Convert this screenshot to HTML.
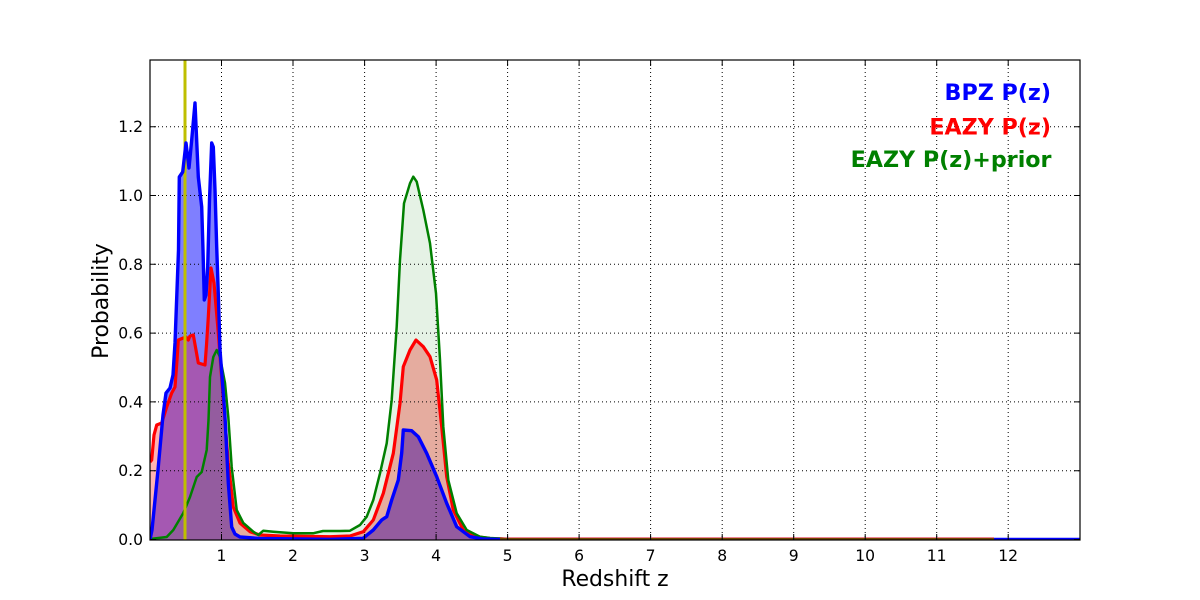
<!DOCTYPE html>
<html><head><meta charset="utf-8"><style>
html,body{margin:0;padding:0;background:#fff;}
svg{display:block;}
text{font-family:"DejaVu Sans","Liberation Sans",sans-serif;}
</style></head><body>
<svg width="1200" height="600" viewBox="0 0 1200 600" xmlns="http://www.w3.org/2000/svg">
<defs><clipPath id="ax"><rect x="150" y="60" width="930" height="480"/></clipPath></defs>
<rect width="1200" height="600" fill="#fff"/>
<g clip-path="url(#ax)">
<!-- fills -->
<path fill="rgba(0,0,255,0.5)" d="M150,539.5 L152,530 L158,470 L163,415 L166,393 L170,388 L173,375 L175,343 L177,290 L178.5,250 L179.3,177 L182.7,172 L186,143 L189,168 L191.7,140 L195,103 L198.3,177 L201.7,207 L203,250 L204.3,300 L206,295 L207.7,267 L209.5,200 L211.7,143 L213.3,147 L215,190 L216.7,247 L218.5,300 L220,350 L222.5,383 L225,417 L228.3,483 L231.7,527 L235,534 L240,537 L260,538.5 L300,539 L330,539.3 L363,538.3 L373.3,530 L381.7,520 L386.7,516.7 L391.7,500 L398.3,480 L401.7,453 L403.3,430 L411.7,430.7 L418.3,436.7 L426.7,453.3 L436.7,476.7 L446.7,503.3 L456.7,526.7 L470,536.7 L483,539 L500,539.5 L1080,539.5 L1080,540 L150,540 Z"/>
<path fill="rgba(255,0,0,0.3)" d="M150,462 L151.7,460 L154,435 L156.7,425 L161.7,423 L166.7,407 L171.7,393 L175,387 L177,360 L178.3,340 L183.3,338 L186,337 L188.3,340 L190,336 L193.3,335 L196,350 L198.3,363 L205,365 L206.5,345 L208.3,317 L211,268 L214,283 L218.3,333 L223.3,400 L228.3,463 L233.3,507 L240,523 L250,531.7 L260,535 L280,536 L330,536.7 L350,536 L363.3,531.7 L373.3,520 L383.3,493.3 L393.3,453.3 L400,403.3 L403.3,366.7 L410,350 L416,340 L423.3,346.7 L430,356.7 L436.7,380 L441.7,426.7 L446.7,476.7 L453.3,510 L463.3,530 L476.7,536.7 L490,538.5 L510,539.2 L994,539.2 L994,540 L150,540 Z"/>
<path fill="rgba(0,128,0,0.1)" d="M150,539 L166.7,537 L173.3,530 L178,522 L183.3,513 L190,497 L196.7,477 L201.7,472 L206.7,450 L208.5,420 L210,377 L213.3,357 L216.7,350 L220,357 L225,383 L228.3,417 L231.7,467 L236.7,510 L243.3,523 L253.3,531.7 L258.3,535 L263.3,530.7 L273.3,531.7 L293.3,533.3 L313,533.3 L323,531 L340,531 L350,530.7 L360,525 L366.7,516.7 L373.3,500 L380,473.3 L386.7,443.3 L391.7,400 L396.7,326.7 L400,260 L404,203.3 L410,183.3 L413.3,176.7 L416.7,181.7 L423.3,210 L430,243.3 L436,293.3 L440,360 L443.3,426.7 L448.3,480 L456.7,513.3 L466.7,530 L480,536.7 L490,538 L510,539 L994,539 L994,540 L150,540 Z"/>
<!-- grid -->
<g stroke="#000" stroke-width="1" stroke-dasharray="1,3" fill="none">
<path d="M221.5,60V540 M293,60V540 M364.6,60V540 M436.1,60V540 M507.6,60V540 M579.1,60V540 M650.6,60V540 M722.2,60V540 M793.7,60V540 M865.2,60V540 M936.7,60V540 M1008.2,60V540"/>
<path d="M150,470.7H1080 M150,401.9H1080 M150,333.1H1080 M150,264.3H1080 M150,195.5H1080 M150,126.7H1080"/>
</g>
<!-- lines -->
<path fill="none" stroke="#ff0000" stroke-width="3.2" stroke-linejoin="round" d="M150,462 L151.7,460 L154,435 L156.7,425 L161.7,423 L166.7,407 L171.7,393 L175,387 L177,360 L178.3,340 L183.3,338 L186,337 L188.3,340 L190,336 L193.3,335 L196,350 L198.3,363 L205,365 L206.5,345 L208.3,317 L211,268 L214,283 L218.3,333 L223.3,400 L228.3,463 L233.3,507 L240,523 L250,531.7 L260,535 L280,536 L330,536.7 L350,536 L363.3,531.7 L373.3,520 L383.3,493.3 L393.3,453.3 L400,403.3 L403.3,366.7 L410,350 L416,340 L423.3,346.7 L430,356.7 L436.7,380 L441.7,426.7 L446.7,476.7 L453.3,510 L463.3,530 L476.7,536.7 L490,538.5 L510,539.2 L994,539.2"/>
<path fill="none" stroke="#008000" stroke-width="2.5" stroke-linejoin="round" d="M150,539 L166.7,537 L173.3,530 L178,522 L183.3,513 L190,497 L196.7,477 L201.7,472 L206.7,450 L208.5,420 L210,377 L213.3,357 L216.7,350 L220,357 L225,383 L228.3,417 L231.7,467 L236.7,510 L243.3,523 L253.3,531.7 L258.3,535 L263.3,530.7 L273.3,531.7 L293.3,533.3 L313,533.3 L323,531 L340,531 L350,530.7 L360,525 L366.7,516.7 L373.3,500 L380,473.3 L386.7,443.3 L391.7,400 L396.7,326.7 L400,260 L404,203.3 L410,183.3 L413.3,176.7 L416.7,181.7 L423.3,210 L430,243.3 L436,293.3 L440,360 L443.3,426.7 L448.3,480 L456.7,513.3 L466.7,530 L480,536.7 L490,538 L510,539"/>
<line x1="185" y1="60" x2="185" y2="540" stroke="#bfbf00" stroke-width="3"/>
<path fill="none" stroke="#0000ff" stroke-width="3.4" stroke-linejoin="round" d="M150,539.5 L152,530 L158,470 L163,415 L166,393 L170,388 L173,375 L175,343 L177,290 L178.5,250 L179.3,177 L182.7,172 L186,143 L189,168 L191.7,140 L195,103 L198.3,177 L201.7,207 L203,250 L204.3,300 L206,295 L207.7,267 L209.5,200 L211.7,143 L213.3,147 L215,190 L216.7,247 L218.5,300 L220,350 L222.5,383 L225,417 L228.3,483 L231.7,527 L235,534 L240,537 L260,538.5 L300,539 L330,539.3 L363,538.3 L373.3,530 L381.7,520 L386.7,516.7 L391.7,500 L398.3,480 L401.7,453 L403.3,430 L411.7,430.7 L418.3,436.7 L426.7,453.3 L436.7,476.7 L446.7,503.3 L456.7,526.7 L470,536.7 L483,539 L500,539.5 L1080,539.5"/>
<!-- tails over blue -->
<path fill="none" stroke="#ff0000" stroke-width="3.2" d="M500,539.2 L994,539.2"/>
<path fill="none" stroke="#008000" stroke-width="2" stroke-opacity="0.55" d="M500,539 L994,539"/>
</g>
<!-- spines -->
<rect x="150" y="60" width="930" height="480" fill="none" stroke="#000" stroke-width="1.2"/>
<!-- ticks -->
<g stroke="#000" stroke-width="1">
<path d="M221.5,540v-6 M293,540v-6 M364.6,540v-6 M436.1,540v-6 M507.6,540v-6 M579.1,540v-6 M650.6,540v-6 M722.2,540v-6 M793.7,540v-6 M865.2,540v-6 M936.7,540v-6 M1008.2,540v-6"/>
<path d="M221.5,60v6 M293,60v6 M364.6,60v6 M436.1,60v6 M507.6,60v6 M579.1,60v6 M650.6,60v6 M722.2,60v6 M793.7,60v6 M865.2,60v6 M936.7,60v6 M1008.2,60v6"/>
<path d="M150,539.5h6 M150,470.7h6 M150,401.9h6 M150,333.1h6 M150,264.3h6 M150,195.5h6 M150,126.7h6"/>
<path d="M1080,539.5h-6 M1080,470.7h-6 M1080,401.9h-6 M1080,333.1h-6 M1080,264.3h-6 M1080,195.5h-6 M1080,126.7h-6"/>
</g>
<!-- tick labels -->
<g font-size="15.6" fill="#000" text-anchor="middle">
<text x="221.5" y="561">1</text><text x="293" y="561">2</text><text x="364.6" y="561">3</text><text x="436.1" y="561">4</text><text x="507.6" y="561">5</text><text x="579.1" y="561">6</text><text x="650.6" y="561">7</text><text x="722.2" y="561">8</text><text x="793.7" y="561">9</text><text x="865.2" y="561">10</text><text x="936.7" y="561">11</text><text x="1008.2" y="561">12</text>
</g>
<g font-size="15.6" fill="#000" text-anchor="end">
<text x="143" y="545">0.0</text><text x="143" y="476.2">0.2</text><text x="143" y="407.4">0.4</text><text x="143" y="338.6">0.6</text><text x="143" y="269.8">0.8</text><text x="143" y="201">1.0</text><text x="143" y="132.2">1.2</text>
</g>
<!-- axis labels -->
<text x="615" y="586" font-size="21.9" text-anchor="middle" fill="#000">Redshift z</text>
<text transform="translate(108,301) rotate(-90)" font-size="21.9" text-anchor="middle" fill="#000">Probability</text>
<!-- legend text -->
<g font-size="22.2" font-weight="bold" text-anchor="end">
<text x="1051" y="100" fill="#0000ff">BPZ P(z)</text>
<text x="1051" y="134.5" fill="#ff0000">EAZY P(z)</text>
<text x="1051.5" y="167" fill="#008000">EAZY P(z)+prior</text>
</g>
</svg>
</body></html>
